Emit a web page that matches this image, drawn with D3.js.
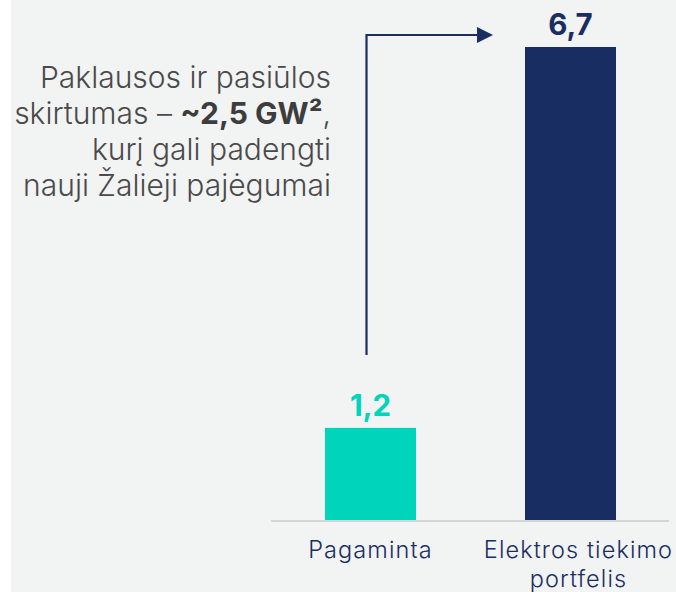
<!DOCTYPE html>
<html>
<head>
<meta charset="utf-8">
<script src="https://cdn.jsdelivr.net/npm/d3@7"></script>
<style>
  html, body { margin: 0; padding: 0; background: #ffffff; }
  svg { display: block; }
</style>
</head>
<body>
<svg id="chart" width="676" height="592"></svg>
<script>
// Categories, values and their printed labels
const categories = ["Pagaminta", "Elektros tiekimo portfelis"];
const categoryLines = [["Pagaminta"], ["Elektros tiekimo", "portfelis"]];
const values = [1.2, 6.7];
const valueLabels = ["1,2", "6,7"];
const barColors = ["#00d4bb", "#182d62"];
const labelColors = ["#00d4bb", "#1a2e63"];
const noteLines = [
  [{ t: "Paklausos ir pasiūlos", b: false }],
  [{ t: "skirtumas – ", b: false }, { t: "~2,5 GW²", b: true }, { t: ",", b: false }],
  [{ t: "kurį gali padengti", b: false }],
  [{ t: "nauji Žalieji pajėgumai", b: false }]
];

const FONT = "Inter, Roboto, 'Liberation Sans', sans-serif";
const svg = d3.select("#chart");
const W = 676, H = 592;

// panel background
svg.append("rect").attr("x", 11).attr("y", 0).attr("width", W - 11).attr("height", H)
  .attr("fill", "#f2f3f3");

const baseY = 520;
const x = d3.scaleBand().domain(categories).range([270.5, 670.5])
  .paddingInner(0.545).paddingOuter(0.2725);
const y = d3.scaleLinear().domain([-0.13, 6.7]).range([baseY, 47]);

// bars
svg.selectAll("rect.bar").data(values).enter().append("rect")
  .attr("class", "bar")
  .attr("x", (d, i) => x(categories[i]))
  .attr("width", x.bandwidth())
  .attr("y", d => y(d))
  .attr("height", d => baseY - y(d))
  .attr("fill", (d, i) => barColors[i]);

// baseline
svg.append("line").attr("x1", 271).attr("x2", 669).attr("y1", baseY + 1).attr("y2", baseY + 1)
  .attr("stroke", "#d3d5d6").attr("stroke-width", 2);

// value labels
svg.selectAll("text.val").data(values).enter().append("text")
  .attr("class", "val")
  .attr("x", (d, i) => x(categories[i]) + x.bandwidth() / 2)
  .attr("y", d => y(d) - 12)
  .attr("text-anchor", "middle")
  .attr("font-family", FONT)
  .attr("font-weight", 700)
  .attr("font-size", 29.5)
  .attr("fill", (d, i) => labelColors[i])
  .text((d, i) => valueLabels[i]);

// category labels
categoryLines.forEach((lines, i) => {
  const cx = x(categories[i]) + x.bandwidth() / 2 + (i === 1 ? 8 : 0);
  const t = svg.append("text")
    .attr("x", cx).attr("y", 558)
    .attr("text-anchor", "middle")
    .attr("font-family", FONT)
    .attr("font-weight", 300)
    .attr("font-size", 23.5)
    .attr("letter-spacing", 1.1)
    .attr("fill", "#1a2e63");
  lines.forEach((ln, j) => {
    t.append("tspan").attr("x", cx).attr("y", 558 + j * 29).text(ln);
  });
});

// elbow arrow from the small bar up to the large bar
const ax = x(categories[0]) + x.bandwidth() / 2 - 4;
const ay0 = y(values[0]) - 73;
const ay1 = y(values[1]) - 12;
const axEnd = x(categories[1]) - 32;
svg.append("path")
  .attr("d", `M${ax},${ay0} L${ax},${ay1} L${axEnd - 14},${ay1}`)
  .attr("fill", "none").attr("stroke", "#1a2e63").attr("stroke-width", 2.2);
svg.append("path")
  .attr("d", `M${axEnd - 16},${ay1 - 8} L${axEnd},${ay1} L${axEnd - 16},${ay1 + 8} Z`)
  .attr("fill", "#1a2e63");

// annotation text, right aligned
const note = svg.append("text")
  .attr("text-anchor", "end")
  .attr("font-family", FONT)
  .attr("font-size", 30)
  .attr("fill", "#4a4a4a");
noteLines.forEach((parts, j) => {
  const line = note.append("tspan").attr("x", 331).attr("y", 88 + j * 36);
  parts.forEach(p => {
    const s = p === parts[0] ? line : note.append("tspan");
    s.attr("font-weight", p.b ? 700 : 300).attr("fill", p.b ? "#3d3d3d" : "#4a4a4a").text(p.t);
  });
});
</script>
</body>
</html>
